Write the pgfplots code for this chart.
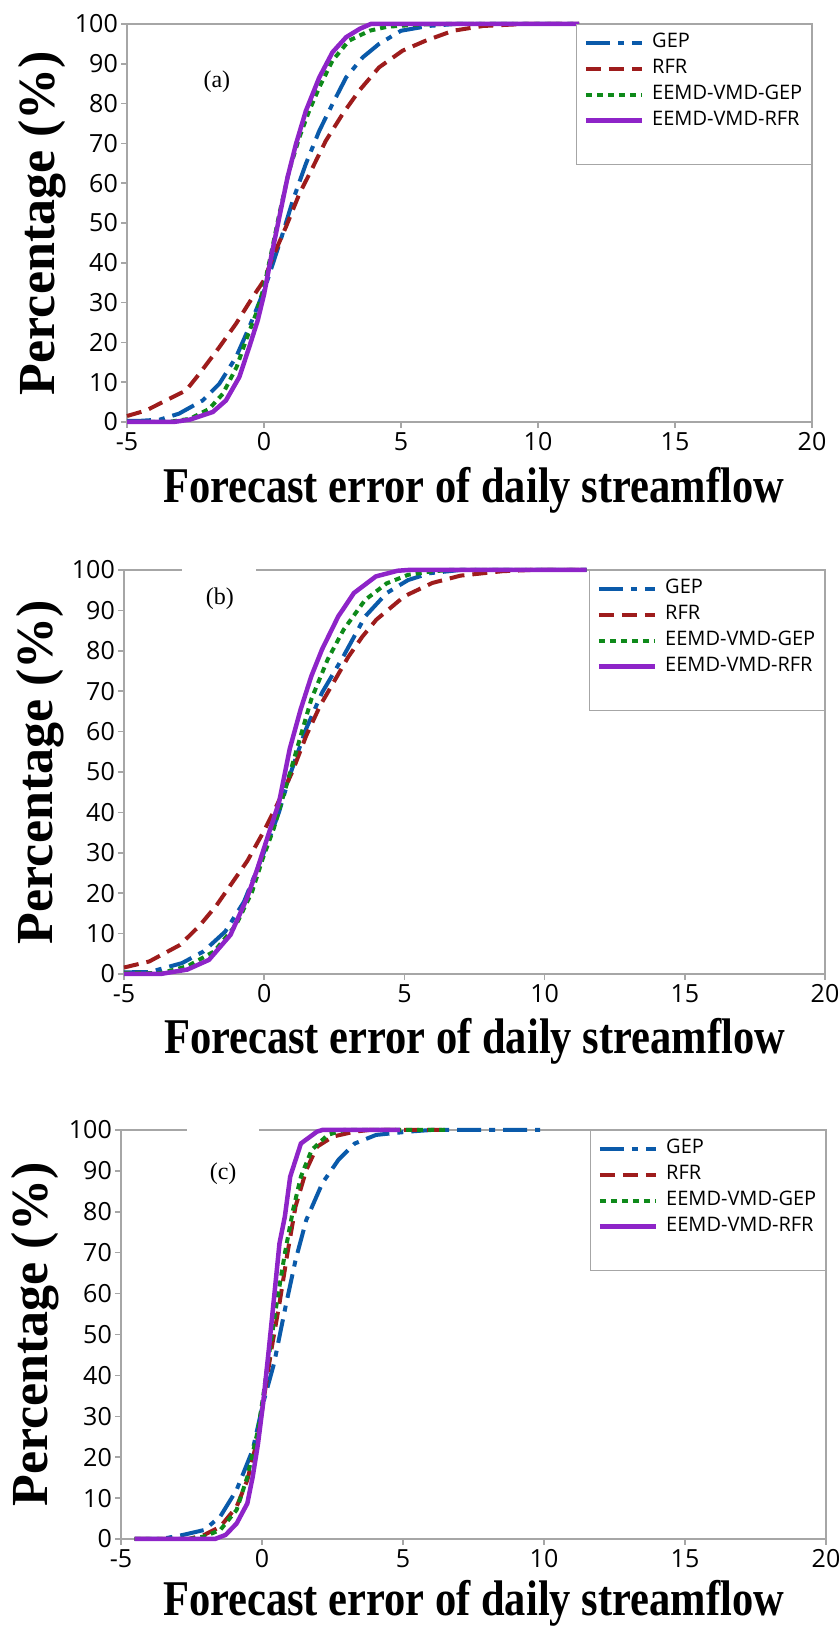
\documentclass[border=0pt]{standalone}
\usepackage{fontspec}
\setmainfont{Liberation Serif}
\newfontfamily\osans{Open Sans}
\usepackage{pgfplots}
\pgfplotsset{compat=1.18}
\definecolor{cgep}{HTML}{0A5AAA}
\definecolor{crfr}{HTML}{9E1C1C}
\definecolor{cegep}{HTML}{0E8A1A}
\definecolor{cerfr}{HTML}{8E24C8}
\definecolor{axgray}{HTML}{A6A6A6}
\pgfplotsset{
  cdfax/.style={
    scale only axis, anchor=south west,
    xmin=-5, xmax=20, ymin=0, ymax=100,
    xtick={-5,0,5,10,15,20}, ytick={0,10,...,100},
    axis line style={axgray, line width=1.5pt},
    tick style={axgray, line width=1.5pt},
    tick align=outside, major tick length=6pt,
    xtick pos=left, ytick pos=left,
    /pgf/number format/assume math mode=true,
    ticklabel style={font=\osans\fontsize{25}{28}\selectfont, text=black},
    yticklabel style={inner xsep=3pt},
    xticklabel style={inner ysep=4pt},
    xlabel={Forecast error of daily streamflow},
    ylabel={Percentage (\%)},
    label style={font=\bfseries\fontsize{50}{56}\selectfont},
    legend style={at={(1,1)}, anchor=north east, draw=axgray, line width=1.5pt, fill=white,
      font=\osans\fontsize{20}{23}\selectfont, inner xsep=7pt, inner ysep=8pt,
      row sep=6pt, column sep=6pt,
      nodes={inner xsep=2pt, inner ysep=0pt, text height=15pt, text depth=5pt}},
    legend cell align=left,
    legend image code/.code={\draw[##1] (0pt,0pt) -- (56pt,0pt);},
    clip=false,
  },
  gep/.style={cgep, line width=4pt, dash pattern=on 24pt off 8pt on 6pt off 8pt},
  rfr/.style={crfr, line width=4pt, dash pattern=on 15pt off 8pt},
  egep/.style={cegep, line width=4pt, dash pattern=on 6pt off 5pt},
  erfr/.style={cerfr, line width=4.5pt},
}
\begin{document}
\begin{tikzpicture}
\useasboundingbox (0,0) rectangle (838pt,1627pt);
% ---------------- (a)
\begin{axis}[cdfax, at={(127pt,1205pt)}, width=685pt, height=398pt,
  xlabel style={at={([xshift=4pt,yshift=-81pt]axis description cs:0.5,0)}, anchor=base, xscale=0.85},
  ylabel style={at={([xshift=-72pt]axis description cs:0,0.5)}, anchor=base, font=\bfseries\fontsize{52}{58}\selectfont}]
\addplot[gep] coordinates {(-5,0.3) (-4.5,0.3) (-3.8,0.6) (-3.1,2.1) (-2.24,5.4) (-1.63,9.6) (-1.02,16.3) (-0.54,23.8) (0,33) (0.32,39.7) (0.68,47.3) (1.05,55.6) (1.53,64.9) (2.02,73.2) (2.5,79.9) (3.0,86.6) (3.6,91.6) (4.2,95) (5.0,98.3) (6.0,99.5) (7.0,100) (11.5,100)};
\addlegendentry{GEP}
\addplot[rfr] coordinates {(-5,1.5) (-4.3,2.9) (-3.58,5.4) (-2.85,7.9) (-2.36,12.1) (-1.63,18.8) (-1.02,24.7) (-0.41,31.4) (0,35.6) (0.32,41.4) (0.8,49) (1.29,57.3) (1.78,64) (2.26,70.7) (2.87,77.4) (3.48,83.3) (4.2,89.1) (5.06,93.3) (5.9,95.8) (6.9,98.3) (8.0,99.5) (9.5,100) (11.5,100)};
\addlegendentry{RFR}
\addplot[egep] coordinates {(-5,0) (-3.5,0) (-2.7,0.8) (-2.0,3.3) (-1.5,7.1) (-1.0,13.8) (-0.66,20.5) (-0.29,27.2) (0,33.9) (0.26,42.3) (0.56,52.3) (0.92,63.2) (1.29,71.5) (1.65,78.2) (2.02,84.1) (2.5,90.8) (3.1,95.8) (3.85,98.3) (4.5,99.3) (5.5,99.8) (6.5,100) (11.5,100)};
\addlegendentry{EEMD-VMD-GEP}
\addplot[erfr] coordinates {(-5,0) (-3.3,0) (-2.7,0.6) (-1.87,2.5) (-1.39,5.4) (-0.9,11.3) (-0.54,18.8) (-0.23,25.5) (0,32) (0.26,41.4) (0.56,51.5) (0.86,61.5) (1.17,69.9) (1.53,78.2) (2.02,86.6) (2.5,92.9) (3.0,96.7) (3.5,98.8) (3.9,100) (11.5,100)};
\addlegendentry{EEMD-VMD-RFR}
\addlegendimage{empty legend}\addlegendentry{}
\node[font=\fontsize{24}{28}\selectfont] at (axis cs:-1.72,85.4) {(a)};
\end{axis}
% ---------------- (b)
\begin{axis}[cdfax, at={(124pt,653pt)}, width=701pt, height=404pt,
  xlabel style={at={([yshift=-80pt]axis description cs:0.5,0)}, anchor=base, xscale=0.85},
  ylabel style={at={([xshift=-71pt]axis description cs:0,0.5)}, anchor=base, font=\bfseries\fontsize{52}{58}\selectfont}]
\addplot[gep] coordinates {(-5,0.4) (-4.08,0.5) (-2.93,2.7) (-2.16,5.6) (-1.39,10.5) (-0.72,17.9) (-0.24,26.1) (0.14,32.7) (0.53,40.1) (0.91,49.1) (1.49,60.6) (2.06,69.6) (2.83,78.7) (3.6,88.5) (4.37,94.3) (5.13,97.5) (5.9,99.2) (7.0,100) (11.5,100)};
\addlegendentry{GEP}
\addplot[rfr] coordinates {(-5,1.6) (-4.1,3.1) (-3.0,7.2) (-2.3,12) (-1.7,17) (-1.2,22) (-0.6,28) (0,35.5) (0.5,42.5) (1.0,50) (1.5,59) (2.0,66.5) (2.5,72.5) (3.0,78.5) (3.5,83.5) (4.0,87.7) (5.0,93.5) (6.0,96.8) (7.0,98.6) (8.5,99.7) (9.5,100) (11.5,100)};
\addlegendentry{RFR}
\addplot[egep] coordinates {(-5,0.3) (-3.7,0.2) (-2.74,1.9) (-1.78,5.6) (-1.0,12.2) (-0.43,20.4) (-0.05,28.6) (0.34,36) (0.72,45) (1.2,56.5) (1.68,68) (2.26,77.8) (2.83,85.2) (3.6,92.6) (4.37,96.7) (5.13,98.8) (5.9,99.6) (6.6,100) (11.5,100)};
\addlegendentry{EEMD-VMD-GEP}
\addplot[erfr] coordinates {(-5,0) (-3.7,0) (-2.74,1.1) (-1.97,3.5) (-1.2,9.7) (-0.62,18.7) (-0.24,26.1) (0.14,34.3) (0.53,42.5) (0.91,55.7) (1.3,65.5) (1.68,73.7) (2.06,80.3) (2.64,88.5) (3.2,94.3) (3.98,98.4) (4.75,99.8) (5.13,100) (11.5,100)};
\addlegendentry{EEMD-VMD-RFR}
\addlegendimage{empty legend}\addlegendentry{}
\draw[white, line width=3pt] (axis cs:-2.93,100) -- (axis cs:-0.29,100);
\node[font=\fontsize{24}{28}\selectfont] at (axis cs:-1.58,92.8) {(b)};
\end{axis}
% ---------------- (c)
\begin{axis}[cdfax, at={(121pt,88pt)}, width=705pt, height=409pt,
  xlabel style={at={([yshift=-77pt]axis description cs:0.5,0)}, anchor=base, xscale=0.85},
  ylabel style={at={([xshift=-73pt]axis description cs:0,0.5)}, anchor=base, font=\bfseries\fontsize{52}{58}\selectfont}]
\addplot[gep] coordinates {(-4.52,0) (-3.57,0) (-2.8,1.0) (-2.05,2.2) (-1.48,5.5) (-0.9,12) (-0.33,21.8) (0.04,33.2) (0.43,43) (0.81,56) (1.19,68.2) (1.57,78) (2.14,87) (2.71,92.7) (3.29,96.7) (4.05,98.8) (5.19,99.6) (6,100) (9.86,100)};
\addlegendentry{GEP}
\addplot[rfr] coordinates {(-4.52,0) (-2.6,0) (-2.05,1.0) (-1.48,3.0) (-0.9,7.9) (-0.52,14.4) (-0.14,25) (0.04,33.2) (0.33,46.2) (0.62,57.6) (0.9,69.8) (1.19,81.3) (1.57,90.2) (1.95,95.9) (2.52,98.4) (3.29,99.6) (3.8,100) (6.56,100)};
\addlegendentry{RFR}
\addplot[egep] coordinates {(-4.52,0) (-2.6,0) (-2.05,0.6) (-1.48,2.2) (-0.9,7.1) (-0.52,15.2) (-0.14,26.7) (0.04,34.8) (0.24,44.6) (0.52,57.6) (0.81,69.8) (1.1,80.4) (1.38,88.6) (1.76,95.1) (2.33,98.8) (2.9,100) (6.5,100)};
\addlegendentry{EEMD-VMD-GEP}
\addplot[erfr] coordinates {(-4.52,0) (-1.67,0) (-1.29,1.0) (-0.9,3.8) (-0.52,8.7) (-0.33,15.2) (-0.14,23.4) (0.04,33.2) (0.24,46.2) (0.43,59.2) (0.62,72.3) (0.81,78.8) (1.0,88.6) (1.38,96.7) (1.95,99.6) (2.14,100) (4.9,100)};
\addlegendentry{EEMD-VMD-RFR}
\addlegendimage{empty legend}\addlegendentry{}
\draw[white, line width=3pt] (axis cs:-2.66,100) -- (axis cs:-0.11,100);
\node[font=\fontsize{24}{28}\selectfont] at (axis cs:-1.38,89.2) {(c)};
\end{axis}
\end{tikzpicture}
\end{document}
